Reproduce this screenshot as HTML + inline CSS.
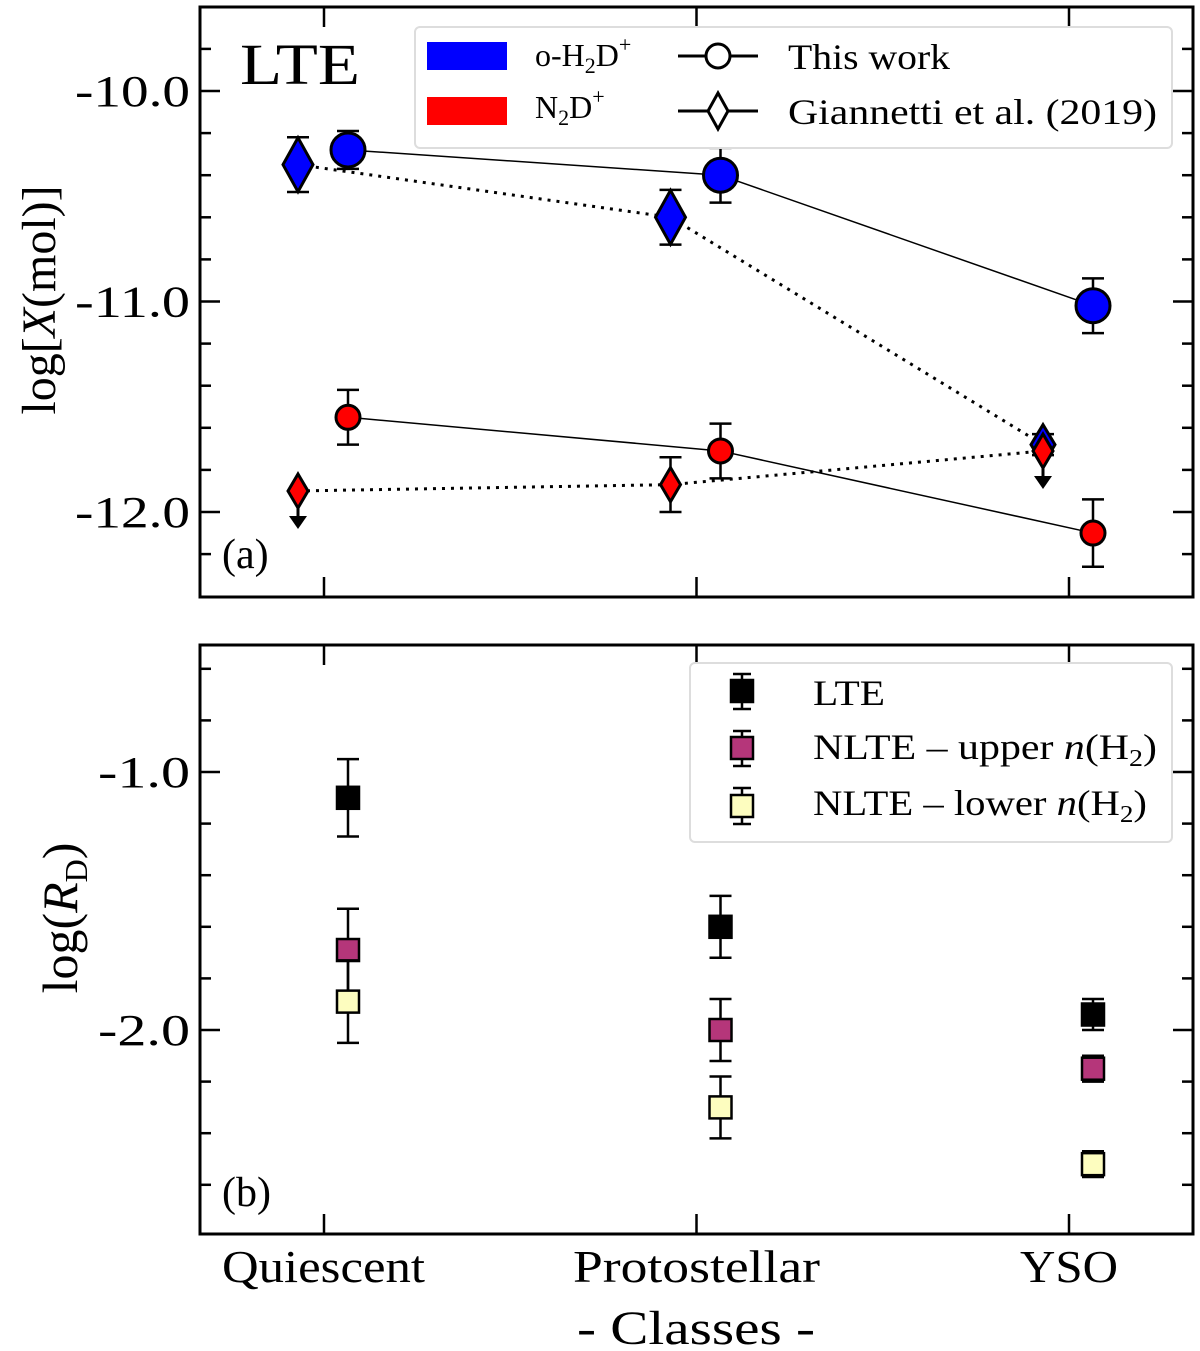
<!DOCTYPE html>
<html><head><meta charset="utf-8"><style>
html,body{margin:0;padding:0;background:#fff;}
svg{display:block;font-family:"Liberation Serif",serif;}
</style></head><body>
<svg id="chart" width="1200" height="1351" xmlns="http://www.w3.org/2000/svg"></svg>
<script>
const categories = ["Quiescent","Protostellar","YSO"];
// Panel (a)
const h2dThis = [-10.28,-10.40,-11.02];
const h2dThisErr = [0.09,0.13,0.13];
const n2dThis = [-11.55,-11.71,-12.10];
const n2dThisErr = [0.13,0.13,0.16];
const h2dGian = [-10.35,-10.60,-11.68];
const h2dGianErr = [0.13,0.13,0.05];
const n2dGian = [-11.90,-11.87,-11.71];
const n2dGianErr = [0,0.13,0.07];
const n2dGianUpper = [true,false,true];
const aTicks = [-10.0,-11.0,-12.0];
// Panel (b)
const rdLTE = [-1.10,-1.60,-1.94];
const rdLTEErr = [0.15,0.12,0.06];
const rdUpper = [-1.69,-2.00,-2.15];
const rdUpperErr = [0.16,0.12,0.05];
const rdLower = [-1.89,-2.30,-2.52];
const rdLowerErr = [0.16,0.12,0.05];
const bTicks = [-1.0,-2.0];

const NS="http://www.w3.org/2000/svg";
const svg=document.getElementById('chart');
function el(tag,attrs,parent){const e=document.createElementNS(NS,tag);for(const k in attrs)e.setAttribute(k,attrs[k]);(parent||svg).appendChild(e);return e;}
const L=200,R=1193;
const xCat=i=>324+i*372.5;
const yA=v=>91+(-10-v)*210.5;
const yB=v=>772+(-1-v)*258;

function frame(top,bot,ymap,majors,minStart,minEnd,name){
  const g=el('g',{});
  
  
  el('rect',{x:L,y:top,width:R-L,height:bot-top,fill:'none',stroke:'#000','stroke-width':3},g);
  for(let v=minStart;v>=minEnd-1e-9;v-=0.2){
    const y=ymap(v); if(y<top+2||y>bot-2)continue;
    const maj=majors.some(m=>Math.abs(m-v)<1e-6);
    const len=maj?20:11;
    el('line',{x1:L,x2:L+len,y1:y,y2:y,stroke:'#000','stroke-width':2.5},g);
    el('line',{x1:R,x2:R-len,y1:y,y2:y,stroke:'#000','stroke-width':2.5},g);
  }
  majors.forEach(m=>{
    const s=m.toFixed(1);
    const w=s.length*23;
    const t=el('text',{x:190-w,y:ymap(m)+15,'font-size':44,textLength:w,lengthAdjust:'spacingAndGlyphs'},g);
    t.textContent=s;
    
    
  });
  categories.forEach((c,i)=>{
    el('line',{x1:xCat(i),x2:xCat(i),y1:top,y2:top+20,stroke:'#000','stroke-width':2.5},g);
    el('line',{x1:xCat(i),x2:xCat(i),y1:bot,y2:bot-20,stroke:'#000','stroke-width':2.5},g);
  });
}
frame(7,597,yA,aTicks,-9.6,-12.4,'panel-a');
frame(645,1234,yB,bTicks,-0.6,-2.8,'panel-b');

function errbar(x,y1,y2,parent){
  el('line',{x1:x,x2:x,y1:y1,y2:y2,stroke:'#000','stroke-width':2.5},parent);
  el('line',{x1:x-11,x2:x+11,y1:y1,y2:y1,stroke:'#000','stroke-width':2.5},parent);
  el('line',{x1:x-11,x2:x+11,y1:y2,y2:y2,stroke:'#000','stroke-width':2.5},parent);
}
function line(vals,off,ymap,dash,name){
  const p=vals.map((v,i)=>(xCat(i)+off)+','+ymap(v)).join(' ');
  const pl=el('polyline',{points:p,fill:'none',stroke:'#000','stroke-width':dash?3:1.5,'stroke-dasharray':dash?'3,6':'none'});
  
  
}
function diamond(x,y,w,h,fill,p){return el('polygon',{points:`${x},${y-h} ${x+w},${y} ${x},${y+h} ${x-w},${y}`,fill:fill,stroke:'#000','stroke-width':3},p);}
function arrow(x,y,p){el('line',{x1:x,x2:x,y1:y,y2:y+22,stroke:'#000','stroke-width':3},p);el('polygon',{points:`${x-9},${y+17} ${x+9},${y+17} ${x},${y+30}`,fill:'#000'},p);}

line(h2dThis,24,yA,false,'h2d-this-work-line');
line(n2dThis,24,yA,false,'n2d-this-work-line');
line(h2dGian,-26,yA,true,'h2d-giannetti-line');
line(n2dGian,-26,yA,true,'n2d-giannetti-line');

h2dGian.forEach((v,i)=>{
  const g=el('g',{});
  
  
  const x=xCat(i)-26,big=i<2;
  errbar(x,yA(v+h2dGianErr[i]),yA(v-h2dGianErr[i]),g);
  diamond(x,yA(v),big?15:12,big?27:20,'#0000ff',g);
});
n2dGian.forEach((v,i)=>{
  const g=el('g',{});
  
  
  const x=xCat(i)-26;
  if(n2dGianErr[i]>0&&!n2dGianUpper[i])errbar(x,yA(v+n2dGianErr[i]),yA(v-n2dGianErr[i]),g);
  if(n2dGianUpper[i])arrow(x,yA(v)+8,g);
  diamond(x,yA(v),10,17,'#ff0000',g);
});
h2dThis.forEach((v,i)=>{
  const g=el('g',{});
  
  
  const x=xCat(i)+24;
  errbar(x,yA(v+h2dThisErr[i]),yA(v-h2dThisErr[i]),g);
  el('circle',{cx:x,cy:yA(v),r:17,fill:'#0000ff',stroke:'#000','stroke-width':3},g);
});
n2dThis.forEach((v,i)=>{
  const g=el('g',{});
  
  
  const x=xCat(i)+24;
  errbar(x,yA(v+n2dThisErr[i]),yA(v-n2dThisErr[i]),g);
  el('circle',{cx:x,cy:yA(v),r:12,fill:'#ff0000',stroke:'#000','stroke-width':3},g);
});

function sq(vals,errs,fill,name){
  vals.forEach((v,i)=>{
    const g=el('g',{});
    
    
    const x=xCat(i)+24;
    errbar(x,yB(v+errs[i]),yB(v-errs[i]),g);
    el('rect',{x:x-11,y:yB(v)-11,width:22,height:22,fill:fill,stroke:'#000','stroke-width':2.5},g);
  });
}
sq(rdLTE,rdLTEErr,'#000000','rd-lte-point');
sq(rdUpper,rdUpperErr,'#b5367a','rd-nlte-upper-point');
sq(rdLower,rdLowerErr,'#fdfdbf','rd-nlte-lower-point');
</script>
<svg style="position:absolute;left:0;top:0" width="1200" height="1351" xmlns="http://www.w3.org/2000/svg" font-family="Liberation Serif, serif">
  <text x="240" y="84" font-size="58" textLength="120" lengthAdjust="spacingAndGlyphs">LTE</text>
  <text x="222" y="568" font-size="42">(a)</text>
  <text x="222" y="1206" font-size="42">(b)</text>
  <text transform="translate(55,300) rotate(-90)" text-anchor="middle" font-size="48">log[<tspan font-style="italic">X</tspan>(mol)]</text>
  <text transform="translate(77,918) rotate(-90)" text-anchor="middle" font-size="50">log(<tspan font-style="italic">R</tspan><tspan font-size="32" dy="10">D</tspan><tspan dy="-10">)</tspan></text>
  <text x="222" y="1282" font-size="46" textLength="203" lengthAdjust="spacingAndGlyphs">Quiescent</text>
  <text x="573" y="1282" font-size="46" textLength="247" lengthAdjust="spacingAndGlyphs">Protostellar</text>
  <text x="1020" y="1282" font-size="46" textLength="98" lengthAdjust="spacingAndGlyphs">YSO</text>
  <text x="577" y="1344" font-size="48" textLength="238" lengthAdjust="spacingAndGlyphs">- Classes -</text>
  <g>
    <rect x="415" y="27" width="757" height="121" rx="5" fill="#fff" stroke="#ddd" stroke-width="2"/>
    <rect x="427" y="42" width="80" height="28" fill="#0000ff"/>
    <rect x="427" y="97" width="80" height="28" fill="#ff0000"/>
    <text x="535" y="66" font-size="32">o-H<tspan font-size="22" dy="7">2</tspan><tspan dy="-7">D</tspan><tspan font-size="22" dy="-14">+</tspan></text>
    <text x="535" y="118" font-size="32">N<tspan font-size="22" dy="7">2</tspan><tspan dy="-7">D</tspan><tspan font-size="22" dy="-14">+</tspan></text>
    <line x1="678" x2="758" y1="56" y2="56" stroke="#000" stroke-width="3"/>
    <circle cx="718" cy="56" r="12" fill="#fff" stroke="#000" stroke-width="3"/>
    <line x1="678" x2="758" y1="111" y2="111" stroke="#000" stroke-width="3"/>
    <polygon points="718,93 728,111 718,129 708,111" fill="#fff" stroke="#000" stroke-width="3"/>
    <text x="788" y="69" font-size="36" textLength="162" lengthAdjust="spacingAndGlyphs">This work</text>
    <text x="788" y="124" font-size="36" textLength="369" lengthAdjust="spacingAndGlyphs">Giannetti et al. (2019)</text>
  </g>
  <g>
    <rect x="690" y="663" width="482" height="179" rx="5" fill="#fff" stroke="#ddd" stroke-width="2"/>
    <line x1="742" x2="742" y1="673" y2="710" stroke="#000" stroke-width="2.5"/>
    <line x1="733" x2="751" y1="674" y2="674" stroke="#000" stroke-width="2.5"/>
    <line x1="733" x2="751" y1="709" y2="709" stroke="#000" stroke-width="2.5"/>
    <rect x="731" y="680" width="22" height="22" fill="#000" stroke="#000" stroke-width="2.5"/>
    <line x1="742" x2="742" y1="730" y2="767" stroke="#000" stroke-width="2.5"/>
    <line x1="733" x2="751" y1="731" y2="731" stroke="#000" stroke-width="2.5"/>
    <line x1="733" x2="751" y1="766" y2="766" stroke="#000" stroke-width="2.5"/>
    <rect x="731" y="737" width="22" height="22" fill="#b5367a" stroke="#000" stroke-width="2.5"/>
    <line x1="742" x2="742" y1="787" y2="825" stroke="#000" stroke-width="2.5"/>
    <line x1="733" x2="751" y1="788" y2="788" stroke="#000" stroke-width="2.5"/>
    <line x1="733" x2="751" y1="824" y2="824" stroke="#000" stroke-width="2.5"/>
    <rect x="731" y="795" width="22" height="22" fill="#fdfdbf" stroke="#000" stroke-width="2.5"/>
    <text x="813" y="705" font-size="36" textLength="72" lengthAdjust="spacingAndGlyphs">LTE</text>
    <text x="813" y="759" font-size="36" textLength="344" lengthAdjust="spacingAndGlyphs">NLTE – upper <tspan font-style="italic">n</tspan>(H<tspan font-size="24" dy="7">2</tspan><tspan dy="-7">)</tspan></text>
    <text x="813" y="815" font-size="36" textLength="334" lengthAdjust="spacingAndGlyphs">NLTE – lower <tspan font-style="italic">n</tspan>(H<tspan font-size="24" dy="7">2</tspan><tspan dy="-7">)</tspan></text>
  </g>
</svg>
</body></html>
